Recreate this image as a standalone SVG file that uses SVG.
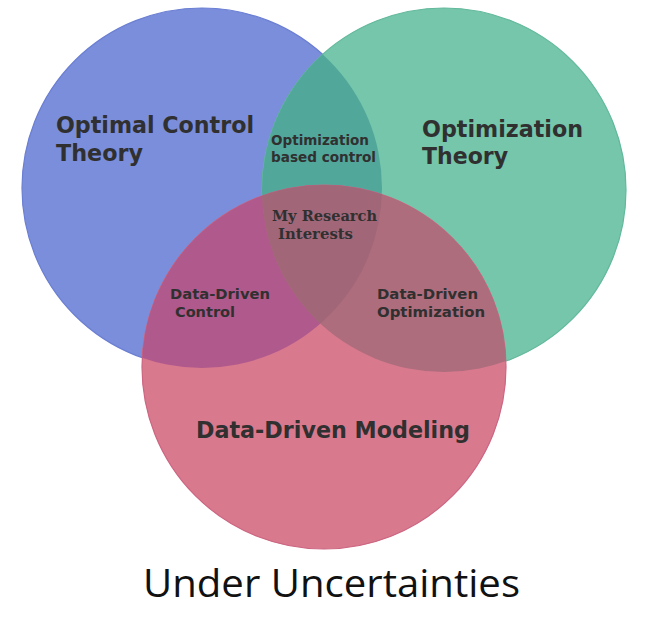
<svg xmlns="http://www.w3.org/2000/svg" width="647" height="627" viewBox="0 0 647 627">
  <defs>
    <clipPath id="cBlue"><circle cx="202" cy="188" r="180"/></clipPath>
    <clipPath id="cGreen"><circle cx="444" cy="190" r="182"/></clipPath>
    <clipPath id="cRed"><circle cx="324" cy="367" r="182"/></clipPath>
    <style>
      .big { font-family: "DejaVu Sans", Verdana, sans-serif; font-weight: bold; font-size: 23px; fill: #303030; }
      .small { font-family: "DejaVu Sans", Verdana, sans-serif; font-weight: bold; font-size: 14px; fill: #303030; }
      .serif { font-family: "DejaVu Serif", "Liberation Serif", serif; font-weight: bold; font-size: 14px; fill: #303030; }
      .caption { font-family: "Open Sans", "Noto Sans", sans-serif; font-size: 39px; fill: #111111; }
    </style>
  </defs>
  <rect width="647" height="627" fill="#ffffff"/>

  <g id="optimal-control-theory">
    <circle cx="202" cy="188" r="180" fill="#7b8edb" stroke="#6a7ed3" stroke-width="1.2"/>
  </g>
  <g id="optimization-theory">
    <circle cx="444" cy="190" r="182" fill="#75c6ab" stroke="#62b89b" stroke-width="1.2"/>
    <circle cx="444" cy="190" r="182" fill="#52a79b" clip-path="url(#cBlue)"/>
  </g>
  <g id="data-driven-modeling">
    <circle cx="324" cy="367" r="182" fill="#d9798e" stroke="#cc6580" stroke-width="1.2"/>
    <circle cx="202" cy="188" r="180" fill="#b0598c" clip-path="url(#cRed)"/>
    <circle cx="444" cy="190" r="182" fill="#ad6d7d" clip-path="url(#cRed)"/>
    <g clip-path="url(#cBlue)">
      <circle cx="444" cy="190" r="182" fill="#a16779" clip-path="url(#cRed)"/>
    </g>
  </g>

  <g id="labels">
    <g id="label-optimal-control">
      <text class="big" x="56" y="133" textLength="198" lengthAdjust="spacingAndGlyphs">Optimal Control</text>
      <text class="big" x="56" y="161" textLength="87" lengthAdjust="spacingAndGlyphs">Theory</text>
    </g>
    <g id="label-optimization-theory">
      <text class="big" x="422" y="137" textLength="161" lengthAdjust="spacingAndGlyphs">Optimization</text>
      <text class="big" x="422" y="164" textLength="86" lengthAdjust="spacingAndGlyphs">Theory</text>
    </g>
    <g id="label-data-driven-modeling">
      <text class="big" x="196" y="438" textLength="274" lengthAdjust="spacingAndGlyphs">Data-Driven Modeling</text>
    </g>
    <g id="label-optimization-based-control">
      <text class="small" x="271" y="145" textLength="98" lengthAdjust="spacingAndGlyphs">Optimization</text>
      <text class="small" x="271" y="162" textLength="105" lengthAdjust="spacingAndGlyphs">based control</text>
    </g>
    <g id="label-research-interests">
      <text class="serif" x="272" y="221" textLength="105" lengthAdjust="spacingAndGlyphs">My Research</text>
      <text class="serif" x="278" y="239" textLength="75" lengthAdjust="spacingAndGlyphs">Interests</text>
    </g>
    <g id="label-data-driven-control">
      <text class="small" x="170" y="299" textLength="100" lengthAdjust="spacingAndGlyphs">Data-Driven</text>
      <text class="small" x="175" y="317" textLength="60" lengthAdjust="spacingAndGlyphs">Control</text>
    </g>
    <g id="label-data-driven-optimization">
      <text class="small" x="377" y="299" textLength="101" lengthAdjust="spacingAndGlyphs">Data-Driven</text>
      <text class="small" x="377" y="317" textLength="108" lengthAdjust="spacingAndGlyphs">Optimization</text>
    </g>
    <g id="label-under-uncertainties">
      <text class="caption" x="143" y="597" textLength="377" lengthAdjust="spacingAndGlyphs">Under Uncertainties</text>
    </g>
  </g>
</svg>
